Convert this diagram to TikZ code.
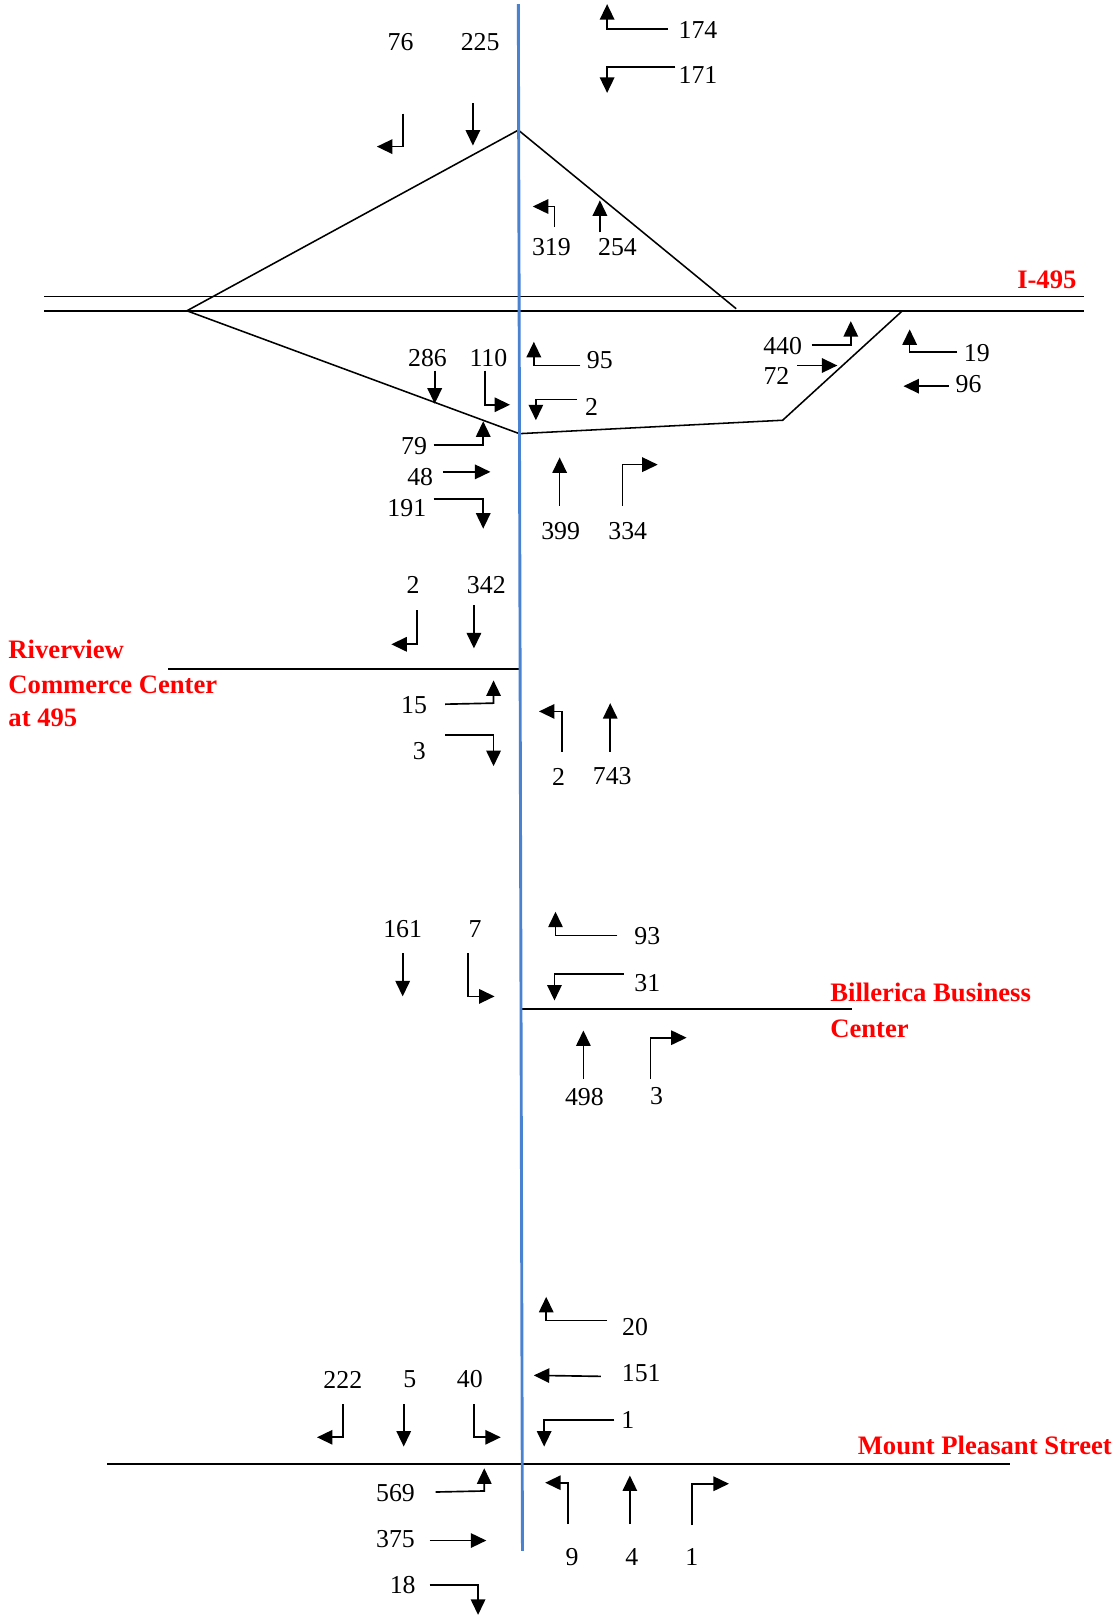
\documentclass[tikz,border=0pt]{standalone}
\usepackage{fontspec}
\setmainfont{Liberation Serif}
\usetikzlibrary{arrows.meta}
\definecolor{mainblue}{RGB}{74,130,210}
\definecolor{lblred}{RGB}{255,0,0}
\begin{document}
\begin{tikzpicture}[x=1pt,y=-1pt,
  road/.style={line width=1.5pt},
  mv/.style={line width=1.6pt,-{Triangle[length=15pt,width=14pt]}},
  num/.style={font=\fontsize{25}{30}\selectfont,inner sep=0pt},
  lbl/.style={font=\fontsize{25.8}{30}\selectfont\bfseries,text=lblred,inner sep=0pt,anchor=base west}]
\useasboundingbox (0,0) rectangle (1080,1568);
\fill[white] (0,0) rectangle (1080,1568);

% ---------- roads ----------
\coordinate (Lw) at (43,287); \coordinate (Le) at (1050,287);
\coordinate (Lw2) at (43,301); \coordinate (Le2) at (1050,301);
\draw[road] (Lw) -- (Le);
\draw[road] (Lw2) -- (Le2);
\coordinate (apex) at (502,126);
\coordinate (tl) at (181,301);
\coordinate (tr) at (713,299);
\coordinate (bv) at (503,420);
\coordinate (br) at (758,407);
\coordinate (bre) at (874,301);
\draw[road] (tl) -- (apex) -- (tr);
\draw[road] (tl) -- (bv) -- (br) -- (bre);
\coordinate (rv1) at (163,648); \coordinate (rv2) at (503,648);
\draw[road] (rv1) -- (rv2);
\coordinate (bb1) at (506,977); \coordinate (bb2) at (825,977);
\draw[road] (bb1) -- (bb2);
\coordinate (mp1) at (104,1418); \coordinate (mp2) at (978,1418);
\draw[road] (mp1) -- (mp2);
\coordinate (btop) at (502,4); \coordinate (bbot) at (506,1502);
\draw[mainblue,line width=2.8pt] (btop) -- (bbot);

% ---------- red labels ----------
\node[lbl] (i495) at (985,279) {I-495};
\node[lbl] (rv) at (8,637.5) {Riverview};
\node[lbl] (cc) at (8,671.5) {Commerce Center};
\node[lbl] (at) at (8,704) {at 495};
\node[lbl] (bb) at (804,969.5) {Billerica Business};
\node[lbl] (bc) at (804,1005) {Center};
\node[lbl,anchor=base east] (mp) at (1077,1408.5) {Mount Pleasant Street};

% ---------- top section ----------
\node[num] (n76) at (388,41) {76};
\node[num] (n225) at (465,41) {225};
\draw[mv] (390,110) -- (390,142) -- (365,142);
\draw[mv] (458,100) -- (458,141);
\node[num] (n174) at (676,29) {174};
\node[num] (n171) at (676,73) {171};
\draw[mv] (647,28) -- (588,28) -- (588,4);
\draw[mv] (654,65) -- (588,65) -- (588,90);
\node[num] (n319) at (534,239) {319};
\node[num] (n254) at (598,239) {254};
\draw[mv] (537,220) -- (537,200) -- (516,200);
\draw[mv] (581,225) -- (581,194);

% ---------- below I-495 ----------
\node[num] (n286) at (414,347) {286};
\node[num] (n110) at (473,347) {110};
\draw[mv] (421,359) -- (421,391);
\draw[mv] (470,359) -- (470,392) -- (494,392);
\node[num] (n95) at (581,349) {95};
\node[num] (n2a) at (573,394) {2};
\draw[mv] (562,354) -- (517,354) -- (517,331);
\draw[mv] (559,387) -- (519,387) -- (519,407);
\node[num] (n79) at (401,432) {79};
\node[num] (n48) at (407,462) {48};
\node[num] (n191) at (394,492) {191};
\draw[mv] (420,431) -- (468,431) -- (468,408);
\draw[mv] (429,457) -- (475,457);
\draw[mv] (420,483) -- (468,483) -- (468,512);
\node[num] (n399) at (543,514) {399};
\node[num] (n334) at (608,514) {334};
\draw[mv] (542,490) -- (542,443);
\draw[mv] (603,490) -- (603,450) -- (637,450);
\node[num] (n440) at (758,335) {440};
\node[num] (n72) at (752,364) {72};
\draw[mv] (786,334) -- (824,334) -- (824,311);
\draw[mv] (772,354) -- (811,354);
\node[num] (n19) at (946,342) {19};
\node[num] (n96) at (938,372) {96};
\draw[mv] (927,341) -- (881,341) -- (881,319);
\draw[mv] (919,374) -- (875,374);

% ---------- Riverview ----------
\node[num] (n2b) at (400,567) {2};
\node[num] (n342) at (471,567) {342};
\draw[mv] (404,591) -- (404,624) -- (379,624);
\draw[mv] (459,586) -- (459,628);
\node[num] (n15) at (401,683) {15};
\node[num] (n3a) at (406,727) {3};
\draw[mv] (431,682) -- (478,681) -- (478,659);
\draw[mv] (431,712) -- (478,712) -- (478,742);
\node[num] (n2c) at (541,752) {2};
\node[num] (n743) at (593,752) {743};
\draw[mv] (544,728) -- (544,689) -- (522,689);
\draw[mv] (591,728) -- (591,681);

% ---------- Billerica ----------
\node[num] (n161) at (390,900) {161};
\node[num] (n7) at (460,900) {7};
\draw[mv] (390,923) -- (390,965);
\draw[mv] (453,923) -- (453,965) -- (479,965);
\node[num] (n93) at (627,907) {93};
\node[num] (n31) at (627,952) {31};
\draw[mv] (598,906) -- (538,906) -- (538,883);
\draw[mv] (604,943) -- (537,943) -- (537,969);
\node[num] (n498) at (566,1062) {498};
\node[num] (n3b) at (636,1062) {3};
\draw[mv] (565,1045) -- (565,998);
\draw[mv] (630,1045) -- (630,1005) -- (665,1005);

% ---------- Mount Pleasant ----------
\node[num] (n20) at (615,1285) {20};
\node[num] (n151) at (621,1330) {151};
\node[num] (n1a) at (608,1375) {1};
\draw[mv] (588,1279) -- (529,1279) -- (529,1256);
\draw[mv] (582,1333) -- (517,1332);
\draw[mv] (595,1375) -- (527,1375) -- (527,1401);
\node[num] (n222) at (332,1336) {222};
\node[num] (n5) at (397,1336) {5};
\node[num] (n40) at (455,1336) {40};
\draw[mv] (332,1360) -- (332,1392) -- (307,1392);
\draw[mv] (391,1360) -- (391,1401);
\draw[mv] (459,1360) -- (459,1392) -- (485,1392);
\node[num] (n569) at (383,1446) {569};
\node[num] (n375) at (383,1491) {375};
\node[num] (n18) at (390,1535) {18};
\draw[mv] (422,1445) -- (469,1444) -- (469,1422);
\draw[mv] (416,1492) -- (471,1492);
\draw[mv] (416,1535) -- (463,1535) -- (463,1564);
\node[num] (n9) at (554,1508) {9};
\node[num] (n4) at (612,1508) {4};
\node[num] (n1b) at (670,1508) {1};
\draw[mv] (550,1476) -- (550,1436) -- (528,1436);
\draw[mv] (610,1476) -- (610,1429);
\draw[mv] (670,1477) -- (670,1437) -- (706,1437);
\end{tikzpicture}
\end{document}
